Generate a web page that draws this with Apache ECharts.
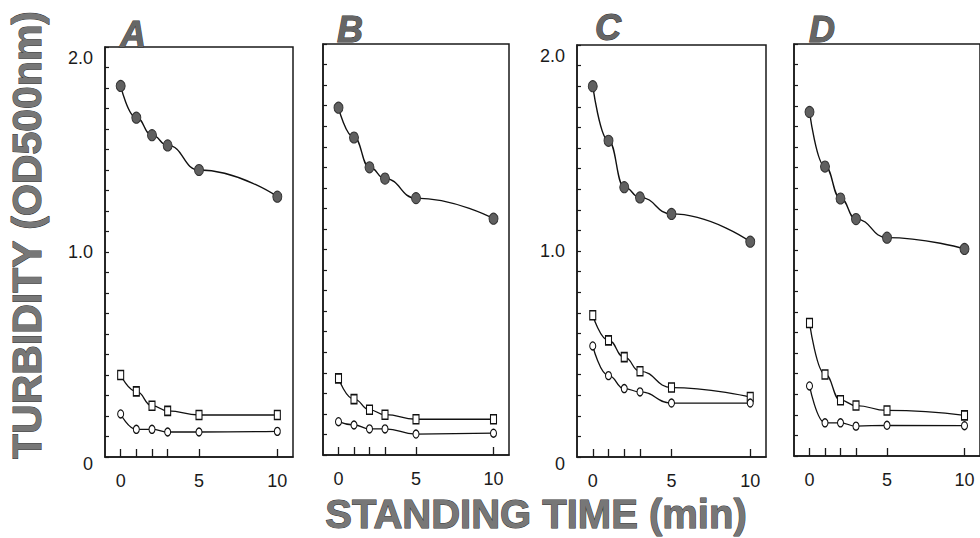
<!DOCTYPE html>
<html>
<head>
<meta charset="utf-8">
<script src="https://cdn.jsdelivr.net/npm/echarts@6/dist/echarts.min.js"></script>
<style>
  html, body { margin: 0; padding: 0; background: #fff; }
  #chart { width: 980px; height: 538px; }
</style>
</head>
<body>
<div id="chart"></div>
<script>
// standing times (min) at which turbidity was read
var times = [0, 1, 2, 3, 5, 10];
var xTickValues = [0, 1, 2, 3, 5, 10];
var xLabelValues = [0, 5, 10];
var yLabelValues = [0, 1, 2];
var panelNames = ['A', 'B', 'C', 'D'];

// OD500nm
var filledA = [1.81, 1.655, 1.57, 1.52, 1.40, 1.27];
var squareA = [0.40, 0.32, 0.25, 0.225, 0.205, 0.205];
var openA   = [0.21, 0.135, 0.135, 0.122, 0.122, 0.125];

var filledB = [1.69, 1.545, 1.40, 1.345, 1.25, 1.15];
var squareB = [0.373, 0.272, 0.22, 0.196, 0.174, 0.174];
var openB   = [0.162, 0.146, 0.127, 0.127, 0.102, 0.106];

var filledC = [1.80, 1.535, 1.31, 1.26, 1.18, 1.045];
var squareC = [0.688, 0.566, 0.485, 0.416, 0.337, 0.291];
var openC   = [0.539, 0.395, 0.332, 0.316, 0.262, 0.262];

var filledD = [1.67, 1.405, 1.25, 1.15, 1.06, 1.005];
var squareD = [0.646, 0.396, 0.271, 0.245, 0.221, 0.197];
var openD   = [0.34, 0.161, 0.161, 0.145, 0.149, 0.147];

var filled = [filledA, filledB, filledC, filledD];
var square = [squareA, squareB, squareC, squareD];
var open   = [openA, openB, openC, openD];

var font = 'Liberation Sans';
var ink = '#1a1a1a';

function pairs(vals){
  var out = [];
  for(var i=0;i<vals.length;i++){
    out.push([times[i], vals[i]]);
  }
  return out;
}

var myChart = echarts.init(document.getElementById('chart'), null, {renderer: 'svg'});

var grids = [
  {left: 105, top: 47, width: 188, height: 410},
  {left: 323, top: 44, width: 186, height: 411},
  {left: 577, top: 45, width: 189, height: 412},
  {left: 794, top: 44, width: 188, height: 412}
];
for(var g=0;g<grids.length;g++){
  grids[g].show = true;
  grids[g].borderColor = ink;
  grids[g].borderWidth = 1.5;
}

xAxes = [];
yAxes = [];
series_data = [];
titles = [];
var titlePos = [[115, 11], [332, 6], [590, 4], [804, 6]];

for(var p=0;p<4;p++){
  xAxes.push({
    gridIndex: p,
    type: 'value',
    min: -1,
    max: 11,
    axisLine: {show: true, onZero: false, lineStyle: {color: ink, width: 1.5}},
    axisTick: {show: true, inside: true, length: 8, customValues: xTickValues, lineStyle: {color: ink, width: 1.3}},
    axisLabel: {customValues: xLabelValues, margin: 15, fontSize: 18, fontFamily: font, color: ink},
    splitLine: {show: false}
  });
  var showY = (p == 0 || p == 2);
  yAxes.push({
    gridIndex: p,
    type: 'value',
    min: 0,
    max: 2,
    interval: 0.1,
    axisLine: {show: true, onZero: false, lineStyle: {color: ink, width: 1.5}},
    axisTick: {show: true, inside: true, length: 4, lineStyle: {color: ink, width: 1.2}},
    axisLabel: {
      show: showY,
      customValues: yLabelValues,
      margin: 12,
      fontSize: 18,
      fontFamily: font,
      color: ink,
      formatter: function(v){
        v = Math.round(v);
        if(v == 2) return '{t|2.0}';
        if(v == 1) return '1.0';
        return '{b|0}';
      },
      rich: {
        t: {padding: [22, 0, 0, 0], fontSize: 18, fontFamily: font, color: ink},
        b: {padding: [14, 0, 0, 0], fontSize: 18, fontFamily: font, color: ink}
      }
    },
    splitLine: {show: false}
  });

  series_data.push({
    name: 'filled ' + panelNames[p], type: 'line', xAxisIndex: p, yAxisIndex: p,
    data: pairs(filled[p]), smooth: 0.5, smoothMonotone: 'x',
    symbol: 'circle', symbolSize: [9, 11],
    itemStyle: {color: '#606060', borderColor: '#333', borderWidth: 1},
    lineStyle: {color: '#111', width: 1.4}
  });
  series_data.push({
    name: 'square ' + panelNames[p], type: 'line', xAxisIndex: p, yAxisIndex: p,
    data: pairs(square[p]), smooth: 0.5, smoothMonotone: 'x',
    symbol: 'rect', symbolSize: [6, 9],
    itemStyle: {color: '#fff', borderColor: '#111', borderWidth: 1.3},
    lineStyle: {color: '#111', width: 1.3}
  });
  series_data.push({
    name: 'open ' + panelNames[p], type: 'line', xAxisIndex: p, yAxisIndex: p,
    data: pairs(open[p]), smooth: 0.5, smoothMonotone: 'x',
    symbol: 'circle', symbolSize: [6, 8],
    itemStyle: {color: '#fff', borderColor: '#111', borderWidth: 1.2},
    lineStyle: {color: '#111', width: 1.3}
  });

  titles.push({
    text: panelNames[p],
    left: titlePos[p][0],
    top: titlePos[p][1],
    textStyle: {fontSize: 36, fontStyle: 'italic', fontWeight: 'bold', fontFamily: font,
      color: '#666', textBorderColor: '#333', textBorderWidth: 1}
  });
}

option = {
  animation: false,
  backgroundColor: '#fff',
  title: titles,
  grid: grids,
  xAxis: xAxes,
  yAxis: yAxes,
  series: series_data,
  graphic: [
    {
      type: 'text', x: 27, y: 235, rotation: Math.PI / 2,
      style: {text: 'TURBIDITY (OD500nm)', align: 'center', verticalAlign: 'middle',
        font: 'bold 41px "Liberation Sans"', fill: '#777', stroke: '#333', lineWidth: 1}
    },
    {
      type: 'text', x: 536, y: 514,
      style: {text: 'STANDING TIME (min)', align: 'center', verticalAlign: 'middle',
        font: 'bold 40px "Liberation Sans"', fill: '#777', stroke: '#333', lineWidth: 1}
    }
  ]
};
myChart.setOption(option);
</script>
</body>
</html>
